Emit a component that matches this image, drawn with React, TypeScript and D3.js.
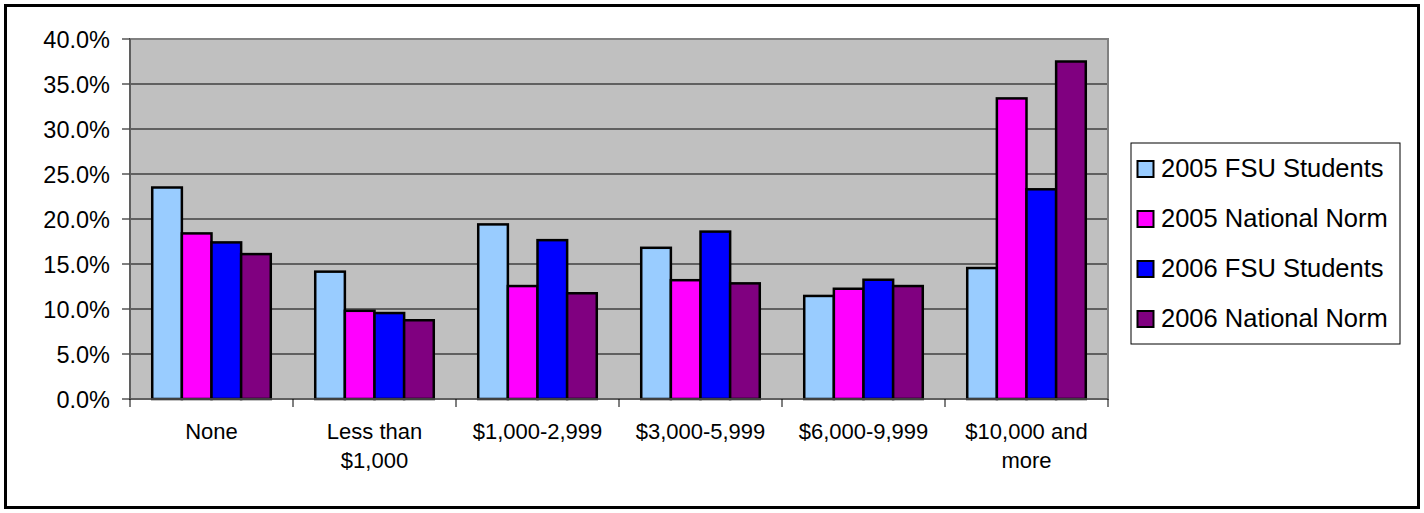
import React from "react";
import * as d3 from "d3";

const categories = ["None", "Less than\n$1,000", "$1,000-2,999", "$3,000-5,999", "$6,000-9,999", "$10,000 and\nmore"];
const seriesNames = ["2005 FSU Students", "2005 National Norm", "2006 FSU Students", "2006 National Norm"];
const seriesColors = ["#99CCFF", "#FF00FF", "#0000FF", "#800080"];
const fsu2005 = [0.235, 0.1415, 0.194, 0.168, 0.1145, 0.1455];
const nat2005 = [0.184, 0.098, 0.1255, 0.132, 0.1225, 0.334];
const fsu2006 = [0.174, 0.0955, 0.1765, 0.186, 0.1325, 0.233];
const nat2006 = [0.161, 0.0875, 0.1175, 0.1285, 0.1255, 0.375];
const yTicks = [0, 0.05, 0.1, 0.15, 0.2, 0.25, 0.3, 0.35, 0.4];

const W = 1424, H = 513;
const plot = { left: 130, right: 1108, top: 39, bottom: 399 };

export default function App() {
  const series = [fsu2005, nat2005, fsu2006, nat2006];
  const x0 = d3.scaleBand<string>().domain(categories).range([plot.left, plot.right])
    .paddingInner(1.5 / 5.5).paddingOuter(0.75 / 5.5);
  const x1 = d3.scaleBand<string>().domain(seriesNames).range([0, x0.bandwidth()]).padding(0);
  const y = d3.scaleLinear().domain([0, 0.4]).range([plot.bottom, plot.top]);
  const fmt = d3.format(".1%");
  const step = x0.step();
  const font = "Arial, 'Liberation Sans', sans-serif";

  return (
    <svg width={W} height={H} style={{ position: "absolute", left: 0, top: 0, background: "#fff" }} fontFamily={font}>
      <rect x={5.5} y={5.5} width={1413} height={502} fill="#fff" stroke="#000" strokeWidth={3} />
      <rect x={plot.left} y={plot.top} width={plot.right - plot.left} height={plot.bottom - plot.top} fill="#C0C0C0" />
      {yTicks.filter(t => t > 0).map(t => (
        <line key={"g" + t} x1={plot.left} x2={plot.right} y1={y(t)} y2={y(t)} stroke="#000" strokeWidth={1} />
      ))}
      <rect x={plot.left} y={plot.top} width={plot.right - plot.left} height={plot.bottom - plot.top} fill="none" stroke="#808080" strokeWidth={2} />
      {yTicks.map(t => (
        <g key={"t" + t}>
          <line x1={plot.left - 8} x2={plot.left} y1={y(t)} y2={y(t)} stroke="#000" strokeWidth={1} />
          <text x={110} y={y(t) + 8.5} textAnchor="end" fontSize={23.5} fill="#000">{fmt(t)}</text>
        </g>
      ))}
      {categories.map((c, i) => (
        <g key={c}>
          {series.map((s, j) => {
            const bx = (x0(c) as number) + (x1(seriesNames[j]) as number);
            return (
              <rect key={j} x={bx} y={y(s[i])} width={x1.bandwidth()} height={y(0) - y(s[i])}
                fill={seriesColors[j]} stroke="#000" strokeWidth={2.5} />
            );
          })}
        </g>
      ))}
      <line x1={plot.left} x2={plot.right} y1={plot.bottom} y2={plot.bottom} stroke="#555" strokeWidth={1.5} />
      <line x1={plot.left} x2={plot.left} y1={plot.top} y2={plot.bottom} stroke="#555" strokeWidth={1.5} />
      {d3.range(categories.length + 1).map(k => (
        <line key={"xt" + k} x1={plot.left + k * step} x2={plot.left + k * step} y1={plot.bottom} y2={plot.bottom + 8} stroke="#000" strokeWidth={1} />
      ))}
      {categories.map(c => {
        const cx = (x0(c) as number) + x0.bandwidth() / 2;
        return (
          <text key={"l" + c} x={cx} textAnchor="middle" fontSize={22} fill="#000">
            {c.split("\n").map((line, k) => (
              <tspan key={k} x={cx} y={439 + k * 29}>{line}</tspan>
            ))}
          </text>
        );
      })}
      <rect x={1131} y={143} width={269} height={201} fill="#fff" stroke="#000" strokeWidth={1} />
      {seriesNames.map((n, j) => (
        <g key={n}>
          <rect x={1137.5} y={161 + j * 50} width={16} height={16} fill={seriesColors[j]} stroke="#000" strokeWidth={2} />
          <text x={1161} y={177 + j * 50} fontSize={25.5} fill="#000">{n}</text>
        </g>
      ))}
    </svg>
  );
}
